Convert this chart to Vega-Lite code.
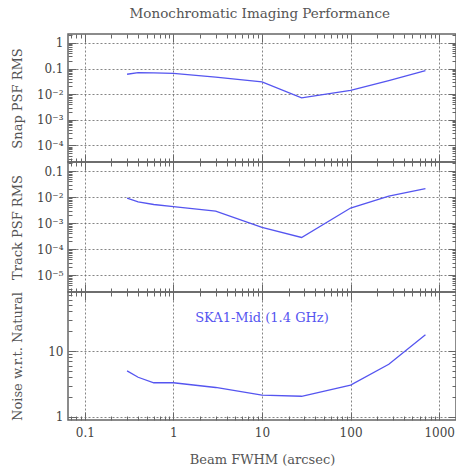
{
  "$schema": "https://vega.github.io/schema/vega-lite/v6.json",
  "background": "white",
  "padding": {"left": 10, "top": 7, "right": 0, "bottom": 2},
  "title": {"text": "Monochromatic Imaging Performance", "font": "DejaVu Serif", "fontSize": 13.5, "fontWeight": "normal", "color": "#555", "anchor": "middle", "offset": 8, "dx": 26},
  "config": {
    "view": {"stroke": "#666", "strokeWidth": 1.5},
    "axis": {"labelFont": "DejaVu Serif", "labelFontSize": 12, "labelColor": "#444", "titleFont": "DejaVu Serif", "titleFontSize": 13, "titleFontWeight": "normal", "titleColor": "#555", "domain": false, "tickColor": "#666", "gridColor": "#666", "gridDash": [2, 2], "gridWidth": 0.8, "labelOverlap": false, "labelFlush": false}
  },
  "datasets": {
    "perf": [
      {"x": 0.3, "snap": 0.06, "track": 0.0091, "noise": 5.0},
      {"x": 0.4, "snap": 0.07, "track": 0.0066, "noise": 4.0},
      {"x": 0.6, "snap": 0.068, "track": 0.0052, "noise": 3.3},
      {"x": 1, "snap": 0.065, "track": 0.0043, "noise": 3.3},
      {"x": 3, "snap": 0.046, "track": 0.0029, "noise": 2.8},
      {"x": 10, "snap": 0.03, "track": 0.00068, "noise": 2.15},
      {"x": 28, "snap": 0.0072, "track": 0.00028, "noise": 2.06},
      {"x": 100, "snap": 0.014, "track": 0.0038, "noise": 3.05},
      {"x": 270, "snap": 0.034, "track": 0.011, "noise": 6.3},
      {"x": 700, "snap": 0.083, "track": 0.021, "noise": 17.7}
    ],
    "label": [{"lx": 10, "ly": 32, "t": "SKA1-Mid (1.4 GHz)"}]
  },
  "spacing": 0,
  "bounds": "flush",
  "vconcat": [
    {
      "width": 388, "height": 128,
      "data": {"name": "perf"},
      "layer": [
        {
          "mark": {"type": "line", "color": "#5555f0", "strokeWidth": 1.3},
          "encoding": {
            "x": {"field": "x", "type": "quantitative", "scale": {"type": "log", "domain": [0.0646, 1549], "nice": false},
              "axis": {"orient": "bottom", "labels": false, "title": null, "values": [0.07,0.08,0.09,0.1,0.2,0.3,0.4,0.5,0.6,0.7,0.8,0.9,1,2,3,4,5,6,7,8,9,10,20,30,40,50,60,70,80,90,100,200,300,400,500,600,700,800,900,1000],
                "grid": true, "gridOpacity": {"condition": {"test": "abs(log(datum.value)/LN10 - round(log(datum.value)/LN10)) < 0.01", "value": 1}, "value": 0},
                "tickSize": {"condition": {"test": "abs(log(datum.value)/LN10 - round(log(datum.value)/LN10)) < 0.01", "value": -8}, "value": -4}, "minExtent": 0, "maxExtent": 0}},
            "y": {"field": "snap", "type": "quantitative", "scale": {"type": "log", "domain": [0.0000224, 2.24], "nice": false},
              "axis": {"orient": "left", "title": "Snap PSF RMS", "values": [0.00003,0.00004,0.00005,0.00006,0.00007,0.00008,0.00009,0.0001,0.0002,0.0003,0.0004,0.0005,0.0006,0.0007,0.0008,0.0009,0.001,0.002,0.003,0.004,0.005,0.006,0.007,0.008,0.009,0.01,0.02,0.03,0.04,0.05,0.06,0.07,0.08,0.09,0.1,0.2,0.3,0.4,0.5,0.6,0.7,0.8,0.9,1,2],
                "labelExpr": "abs(log(datum.value)/LN10 - round(log(datum.value)/LN10)) < 0.01 ? (datum.value > 0.5 ? '1' : datum.value > 0.05 ? '0.1' : '10⁻' + ['','','²','³','⁴','⁵','⁶'][round(-log(datum.value)/LN10)]) : ''",
                "grid": true, "gridOpacity": {"condition": {"test": "abs(log(datum.value)/LN10 - round(log(datum.value)/LN10)) < 0.01", "value": 1}, "value": 0},
                "tickSize": {"condition": {"test": "abs(log(datum.value)/LN10 - round(log(datum.value)/LN10)) < 0.01", "value": -8}, "value": -4},
                "labelPadding": 13, "titlePadding": 6, "minExtent": 38, "maxExtent": 38}}
          }
        },
        {
          "mark": {"type": "line", "opacity": 0},
          "encoding": {
            "x": {"field": "x", "type": "quantitative", "axis": {"orient": "top", "labels": false, "title": null, "grid": false, "values": [0.07,0.08,0.09,0.1,0.2,0.3,0.4,0.5,0.6,0.7,0.8,0.9,1,2,3,4,5,6,7,8,9,10,20,30,40,50,60,70,80,90,100,200,300,400,500,600,700,800,900,1000],
              "tickSize": {"condition": {"test": "abs(log(datum.value)/LN10 - round(log(datum.value)/LN10)) < 0.01", "value": -8}, "value": -4}, "minExtent": 0, "maxExtent": 0}},
            "y": {"field": "snap", "type": "quantitative", "axis": {"orient": "right", "labels": false, "title": null, "grid": false, "values": [0.00003,0.00004,0.00005,0.00006,0.00007,0.00008,0.00009,0.0001,0.0002,0.0003,0.0004,0.0005,0.0006,0.0007,0.0008,0.0009,0.001,0.002,0.003,0.004,0.005,0.006,0.007,0.008,0.009,0.01,0.02,0.03,0.04,0.05,0.06,0.07,0.08,0.09,0.1,0.2,0.3,0.4,0.5,0.6,0.7,0.8,0.9,1,2],
              "tickSize": {"condition": {"test": "abs(log(datum.value)/LN10 - round(log(datum.value)/LN10)) < 0.01", "value": -8}, "value": -4}, "minExtent": 0, "maxExtent": 0}}
          }
        }
      ],
      "resolve": {"axis": {"x": "independent", "y": "independent"}}
    },
    {
      "width": 388, "height": 130,
      "data": {"name": "perf"},
      "layer": [
        {
          "mark": {"type": "line", "color": "#5555f0", "strokeWidth": 1.3},
          "encoding": {
            "x": {"field": "x", "type": "quantitative", "scale": {"type": "log", "domain": [0.0646, 1549], "nice": false},
              "axis": {"orient": "bottom", "labels": false, "title": null, "values": [0.07,0.08,0.09,0.1,0.2,0.3,0.4,0.5,0.6,0.7,0.8,0.9,1,2,3,4,5,6,7,8,9,10,20,30,40,50,60,70,80,90,100,200,300,400,500,600,700,800,900,1000],
                "grid": true, "gridOpacity": {"condition": {"test": "abs(log(datum.value)/LN10 - round(log(datum.value)/LN10)) < 0.01", "value": 1}, "value": 0},
                "tickSize": {"condition": {"test": "abs(log(datum.value)/LN10 - round(log(datum.value)/LN10)) < 0.01", "value": -8}, "value": -4}, "minExtent": 0, "maxExtent": 0}},
            "y": {"field": "track", "type": "quantitative", "scale": {"type": "log", "domain": [0.00000224, 0.224], "nice": false},
              "axis": {"orient": "left", "title": "Track PSF RMS", "values": [0.000003,0.000004,0.000005,0.000006,0.000007,0.000008,0.000009,0.00001,0.00002,0.00003,0.00004,0.00005,0.00006,0.00007,0.00008,0.00009,0.0001,0.0002,0.0003,0.0004,0.0005,0.0006,0.0007,0.0008,0.0009,0.001,0.002,0.003,0.004,0.005,0.006,0.007,0.008,0.009,0.01,0.02,0.03,0.04,0.05,0.06,0.07,0.08,0.09,0.1,0.2],
                "labelExpr": "abs(log(datum.value)/LN10 - round(log(datum.value)/LN10)) < 0.01 ? (datum.value > 0.5 ? '1' : datum.value > 0.05 ? '0.1' : '10⁻' + ['','','²','³','⁴','⁵','⁶'][round(-log(datum.value)/LN10)]) : ''",
                "grid": true, "gridOpacity": {"condition": {"test": "abs(log(datum.value)/LN10 - round(log(datum.value)/LN10)) < 0.01", "value": 1}, "value": 0},
                "tickSize": {"condition": {"test": "abs(log(datum.value)/LN10 - round(log(datum.value)/LN10)) < 0.01", "value": -8}, "value": -4},
                "labelPadding": 13, "titlePadding": 6, "minExtent": 38, "maxExtent": 38}}
          }
        },
        {
          "mark": {"type": "line", "opacity": 0},
          "encoding": {
            "x": {"field": "x", "type": "quantitative", "axis": {"orient": "top", "labels": false, "title": null, "grid": false, "values": [0.07,0.08,0.09,0.1,0.2,0.3,0.4,0.5,0.6,0.7,0.8,0.9,1,2,3,4,5,6,7,8,9,10,20,30,40,50,60,70,80,90,100,200,300,400,500,600,700,800,900,1000],
              "tickSize": {"condition": {"test": "abs(log(datum.value)/LN10 - round(log(datum.value)/LN10)) < 0.01", "value": -8}, "value": -4}, "minExtent": 0, "maxExtent": 0}},
            "y": {"field": "track", "type": "quantitative", "axis": {"orient": "right", "labels": false, "title": null, "grid": false, "values": [0.000003,0.000004,0.000005,0.000006,0.000007,0.000008,0.000009,0.00001,0.00002,0.00003,0.00004,0.00005,0.00006,0.00007,0.00008,0.00009,0.0001,0.0002,0.0003,0.0004,0.0005,0.0006,0.0007,0.0008,0.0009,0.001,0.002,0.003,0.004,0.005,0.006,0.007,0.008,0.009,0.01,0.02,0.03,0.04,0.05,0.06,0.07,0.08,0.09,0.1,0.2],
              "tickSize": {"condition": {"test": "abs(log(datum.value)/LN10 - round(log(datum.value)/LN10)) < 0.01", "value": -8}, "value": -4}, "minExtent": 0, "maxExtent": 0}}
          }
        }
      ],
      "resolve": {"axis": {"x": "independent", "y": "independent"}}
    },
    {
      "width": 388, "height": 128,
      "layer": [
        {
          "data": {"name": "perf"},
          "mark": {"type": "line", "color": "#5555f0", "strokeWidth": 1.3},
          "encoding": {
            "x": {"field": "x", "type": "quantitative", "scale": {"type": "log", "domain": [0.0646, 1549], "nice": false},
              "axis": {"orient": "bottom", "title": "Beam FWHM (arcsec)", "values": [0.07,0.08,0.09,0.1,0.2,0.3,0.4,0.5,0.6,0.7,0.8,0.9,1,2,3,4,5,6,7,8,9,10,20,30,40,50,60,70,80,90,100,200,300,400,500,600,700,800,900,1000],
                "labelExpr": "abs(log(datum.value)/LN10 - round(log(datum.value)/LN10)) < 0.01 ? (datum.value < 0.5 ? '0.1' : format(datum.value, 'd')) : ''",
                "grid": true, "gridOpacity": {"condition": {"test": "abs(log(datum.value)/LN10 - round(log(datum.value)/LN10)) < 0.01", "value": 1}, "value": 0},
                "tickSize": {"condition": {"test": "abs(log(datum.value)/LN10 - round(log(datum.value)/LN10)) < 0.01", "value": -8}, "value": -4},
                "labelPadding": 15, "titlePadding": 11}},
            "y": {"field": "noise", "type": "quantitative", "scale": {"type": "log", "domain": [0.9, 78.4], "nice": false},
              "axis": {"orient": "left", "title": "Noise w.r.t. Natural", "values": [1,2,3,4,5,6,7,8,9,10,20,30,40,50,60,70],
                "labelExpr": "abs(log(datum.value)/LN10 - round(log(datum.value)/LN10)) < 0.01 ? format(datum.value, 'd') : ''",
                "grid": true, "gridOpacity": {"condition": {"test": "abs(log(datum.value)/LN10 - round(log(datum.value)/LN10)) < 0.01", "value": 1}, "value": 0},
                "tickSize": {"condition": {"test": "abs(log(datum.value)/LN10 - round(log(datum.value)/LN10)) < 0.01", "value": -8}, "value": -4},
                "labelPadding": 13, "titlePadding": 6, "minExtent": 38, "maxExtent": 38}}
          }
        },
        {
          "data": {"name": "perf"},
          "mark": {"type": "line", "opacity": 0},
          "encoding": {
            "x": {"field": "x", "type": "quantitative", "axis": {"orient": "top", "labels": false, "title": null, "grid": false, "values": [0.07,0.08,0.09,0.1,0.2,0.3,0.4,0.5,0.6,0.7,0.8,0.9,1,2,3,4,5,6,7,8,9,10,20,30,40,50,60,70,80,90,100,200,300,400,500,600,700,800,900,1000],
              "tickSize": {"condition": {"test": "abs(log(datum.value)/LN10 - round(log(datum.value)/LN10)) < 0.01", "value": -8}, "value": -4}, "minExtent": 0, "maxExtent": 0}},
            "y": {"field": "noise", "type": "quantitative", "axis": {"orient": "right", "labels": false, "title": null, "grid": false, "values": [1,2,3,4,5,6,7,8,9,10,20,30,40,50,60,70],
              "tickSize": {"condition": {"test": "abs(log(datum.value)/LN10 - round(log(datum.value)/LN10)) < 0.01", "value": -8}, "value": -4}, "minExtent": 0, "maxExtent": 0}}
          }
        },
        {
          "data": {"name": "label"},
          "mark": {"type": "text", "font": "DejaVu Serif", "fontSize": 13, "color": "#5555f0"},
          "encoding": {
            "x": {"field": "lx", "type": "quantitative", "axis": null},
            "y": {"field": "ly", "type": "quantitative", "axis": null},
            "text": {"field": "t"}
          }
        }
      ],
      "resolve": {"axis": {"x": "independent", "y": "independent"}}
    }
  ]
}
